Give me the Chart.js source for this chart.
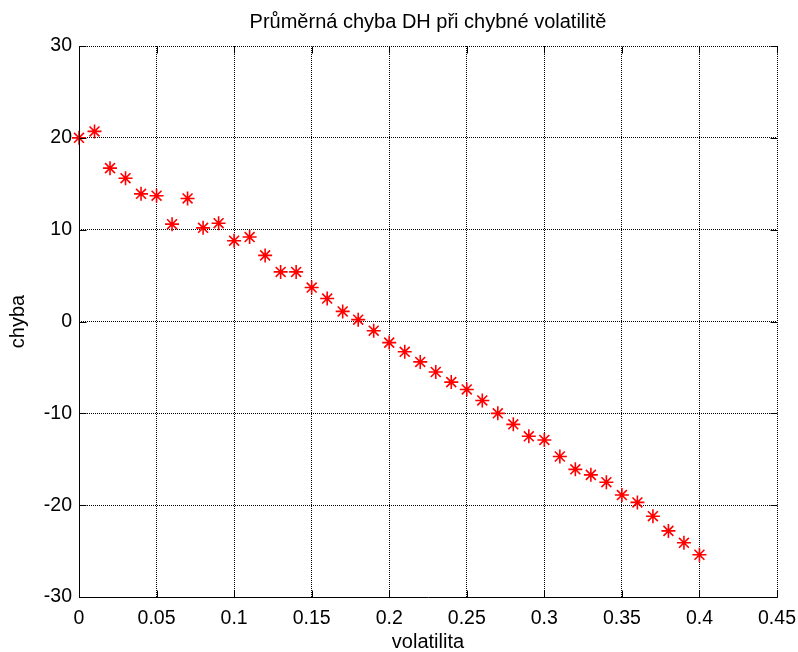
<!DOCTYPE html>
<html>
<head>
<meta charset="utf-8">
<script src="https://cdn.jsdelivr.net/npm/chart.js@4/dist/chart.umd.min.js"></script>
<style>
  html, body { margin: 0; padding: 0; background: #fff; }
  #wrap { width: 798px; height: 652px; }
</style>
</head>
<body>
<div id="wrap"><canvas id="chart" width="798" height="652"></canvas></div>
<script>
// volatility values (x) and mean DH error (y)
const volatilita = [0, 0.01, 0.02, 0.03, 0.04, 0.05, 0.06, 0.07, 0.08, 0.09,
    0.1, 0.11, 0.12, 0.13, 0.14, 0.15, 0.16, 0.17, 0.18, 0.19,
    0.2, 0.21, 0.22, 0.23, 0.24, 0.25, 0.26, 0.27, 0.28, 0.29,
    0.3, 0.31, 0.32, 0.33, 0.34, 0.35, 0.36, 0.37, 0.38, 0.39, 0.4];
const chyba = [20.0, 20.7, 16.7, 15.6, 13.9, 13.7, 10.6, 13.4, 10.2, 10.7,
    8.8, 9.2, 7.2, 5.4, 5.4, 3.7, 2.5, 1.1, 0.2, -1.0,
    -2.3, -3.3, -4.4, -5.5, -6.6, -7.4, -8.6, -10.0, -11.2, -12.5,
    -12.9, -14.7, -16.1, -16.7, -17.5, -18.9, -19.7, -21.2, -22.8, -24.1, -25.4];
const xTicks = [0, 0.05, 0.1, 0.15, 0.2, 0.25, 0.3, 0.35, 0.4, 0.45];
const yTicks = [-30, -20, -10, 0, 10, 20, 30];

const FONT = "'Liberation Sans', Arial, sans-serif";

// MATLAB-like solid left/bottom axes and inward ticks on all four sides
const inwardTicks = {
    id: 'inwardTicks',
    afterDatasetsDraw(chart) {
        const { ctx, chartArea: a, scales: { x, y } } = chart;
        const len = 7;
        const L = Math.round(a.left) + 0.5, B = Math.round(a.bottom) + 0.5;
        const T = Math.round(a.top) + 0.5, R = Math.round(a.right) + 0.5;
        ctx.save();
        ctx.strokeStyle = '#000';
        ctx.lineWidth = 1;
        ctx.setLineDash([]);
        ctx.beginPath();
        ctx.moveTo(L, T); ctx.lineTo(L, B); ctx.lineTo(R, B);
        xTicks.forEach(v => {
            const px = Math.round(x.getPixelForValue(v)) + 0.5;
            ctx.moveTo(px, B); ctx.lineTo(px, B - len);
            ctx.moveTo(px, T); ctx.lineTo(px, T + len);
        });
        yTicks.forEach(v => {
            const py = Math.round(y.getPixelForValue(v)) + 0.5;
            ctx.moveTo(L, py); ctx.lineTo(L + len, py);
            ctx.moveTo(R, py); ctx.lineTo(R - len, py);
        });
        ctx.stroke();
        ctx.restore();
    }
};

new Chart(document.getElementById('chart'), {
    type: 'scatter',
    data: {
        datasets: [{
            data: volatilita.map((v, i) => ({ x: v, y: chyba[i] })),
            pointStyle: 'star',
            pointRadius: 7,
            pointHoverRadius: 7,
            borderColor: '#ff0000',
            backgroundColor: '#ff0000',
            pointBorderWidth: 1.6,
            clip: false
        }]
    },
    options: {
        responsive: false,
        animation: false,
        layout: { padding: { left: 0, right: 21, top: 0, bottom: 0 } },
        plugins: {
            legend: { display: false },
            tooltip: { enabled: false },
            title: {
                display: true,
                fullSize: false,
                text: 'Průměrná chyba DH při chybné volatilitě',
                color: '#000',
                font: { family: FONT, size: 20, weight: 'normal', lineHeight: 1.2 },
                padding: { top: 10, bottom: 12 }
            }
        },
        scales: {
            x: {
                type: 'linear',
                min: 0, max: 0.45,
                afterBuildTicks: s => { s.ticks = xTicks.map(v => ({ value: v })); },
                afterFit: s => { s.height = 55; s.paddingLeft = 0; s.paddingRight = 0; },
                ticks: {
                    color: '#000',
                    padding: 10,
                    maxRotation: 0,
                    font: { family: FONT, size: 19.5 },
                    callback: v => String(+v.toFixed(2))
                },
                grid: { color: '#000', drawTicks: false, lineWidth: 1 },
                border: { display: false, dash: [1, 1] },
                title: {
                    display: true, text: 'volatilita', color: '#000',
                    font: { family: FONT, size: 20, lineHeight: 1 },
                    padding: { top: 0, bottom: 0 }
                }
            },
            y: {
                type: 'linear',
                min: -30, max: 30,
                afterBuildTicks: s => { s.ticks = yTicks.map(v => ({ value: v })); },
                afterFit: s => { s.width = 79; s.paddingTop = 0; s.paddingBottom = 0; },
                ticks: {
                    color: '#000',
                    padding: 7,
                    font: { family: FONT, size: 19.5 }
                },
                grid: { color: '#000', drawTicks: false, lineWidth: 1 },
                border: { display: false, dash: [1, 1] },
                title: {
                    display: true, text: 'chyba', color: '#000',
                    font: { family: FONT, size: 20, lineHeight: 1.2 },
                    padding: { top: 6, bottom: 0 }
                }
            }
        }
    },
    plugins: [inwardTicks]
});
</script>
</body>
</html>
